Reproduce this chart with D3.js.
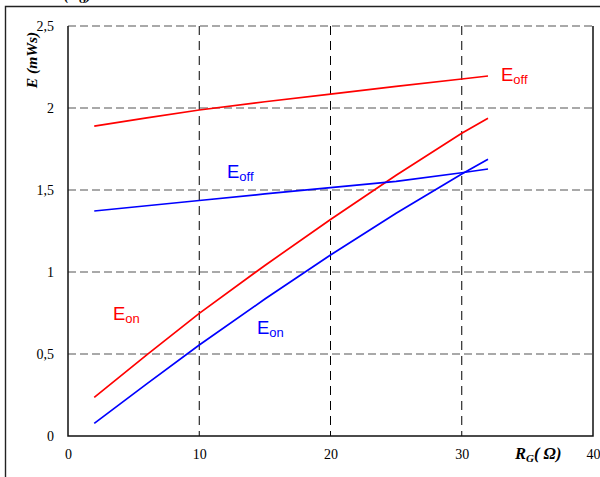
<!DOCTYPE html>
<html><head><meta charset="utf-8">
<script src="https://cdn.jsdelivr.net/npm/d3@7"></script>
<style>html,body{margin:0;padding:0;background:#fff;}svg{display:block;}</style>
</head><body>
<script>
const rgValues = [2, 6, 10, 15, 20, 25, 30, 32];
const eoffRed  = [1.89, 1.94, 1.988, 2.038, 2.085, 2.132, 2.177, 2.195];
const eonRed   = [0.236, 0.495, 0.748, 1.04, 1.32, 1.59, 1.846, 1.937];
const eoffBlue = [1.372, 1.404, 1.436, 1.476, 1.514, 1.553, 1.605, 1.628];
const eonBlue  = [0.077, 0.318, 0.555, 0.835, 1.104, 1.358, 1.598, 1.687];
const xTicks = [0, 10, 20, 30, 40];
const yTicks = [0, 0.5, 1, 1.5, 2, 2.5];
const yTickLabels = ["0", "0,5", "1", "1,5", "2", "2,5"];

const W = 600, H = 477;
const svg = d3.select("body").append("svg").attr("width", W).attr("height", H);
const x = d3.scaleLinear().domain([0, 40]).range([68, 593]);
const y = d3.scaleLinear().domain([0, 2.5]).range([436, 26]);

// outer frame
svg.append("path").attr("d", `M5.5,${H} L5.5,6.5 L${W},6.5`).attr("fill", "none").attr("stroke", "#222").attr("stroke-width", 1.4);

// clipped top title
const tt = svg.append("text").attr("x", 64).attr("y", 0).attr("font-family", "Liberation Serif").attr("font-weight", "bold").attr("font-style", "italic").attr("font-size", 15);
tt.append("tspan").text("(R");
tt.append("tspan").attr("font-size", 10).attr("dy", 3).text("G");
tt.append("tspan").attr("dy", -3).text(")");

// gridlines
const grid = svg.append("g");
grid.selectAll("line.h").data(yTicks.filter(d => d > 0)).join("line")
  .attr("x1", x(0)).attr("x2", x(40)).attr("y1", d => y(d)).attr("y2", d => y(d))
  .attr("stroke", "#555").attr("stroke-width", 1.2).attr("stroke-dasharray", "8,4");
grid.selectAll("line.v").data(xTicks.filter(d => d > 0 && d < 40)).join("line")
  .attr("x1", d => x(d)).attr("x2", d => x(d)).attr("y1", y(2.5)).attr("y2", y(0))
  .attr("stroke", "#000").attr("stroke-width", 1).attr("stroke-dasharray", "9,6");

// plot frame (left, bottom, right)
svg.append("path").attr("d", `M${x(0)},${y(2.5)} L${x(0)},${y(0)} L${x(40)},${y(0)} L${x(40)},${y(2.5)}`)
  .attr("fill", "none").attr("stroke", "#111").attr("stroke-width", 1.5);

// axes labels via d3 axes (no lines)
const yAxis = svg.append("g").attr("transform", `translate(${x(0) - 11},0)`)
  .call(d3.axisLeft(y).tickValues(yTicks).tickSize(0).tickFormat((d, i) => yTickLabels[i]));
yAxis.select(".domain").remove();
yAxis.selectAll("text").attr("font-family", "Liberation Serif").attr("font-size", 14).attr("fill", "#000");

const xAxis = svg.append("g").attr("transform", `translate(0,${y(0) + 10})`)
  .call(d3.axisBottom(x).tickValues(xTicks).tickSize(0).tickFormat(d3.format("d")));
xAxis.select(".domain").remove();
xAxis.selectAll("text").attr("font-family", "Liberation Serif").attr("font-size", 14).attr("fill", "#000");

// axis titles
svg.append("text").attr("transform", "translate(37,60) rotate(-90)").attr("text-anchor", "middle")
  .attr("font-family", "Liberation Serif").attr("font-weight", "bold").attr("font-style", "italic").attr("font-size", 15.5)
  .text("E (mWs)");
const xt = svg.append("text").attr("x", 515).attr("y", 459)
  .attr("font-family", "Liberation Serif").attr("font-weight", "bold").attr("font-style", "italic").attr("font-size", 16.5);
xt.append("tspan").text("R");
xt.append("tspan").attr("font-size", 11).attr("dy", 3).text("G");
xt.append("tspan").attr("dy", -3).text("( Ω)");

// series lines
const line = d3.line().x((d, i) => x(rgValues[i])).y(d => y(d));
const series = [
  {v: eoffRed, c: "#ff0000"},
  {v: eonRed, c: "#ff0000"},
  {v: eoffBlue, c: "#0000ff"},
  {v: eonBlue, c: "#0000ff"}
];
svg.selectAll("path.s").data(series).join("path").attr("class", "s")
  .attr("d", d => line(d.v)).attr("fill", "none").attr("stroke", d => d.c).attr("stroke-width", 1.7);

// labels
const labels = [
  {x: 501, y: 81, main: "E", sub: "off", c: "#ff0000"},
  {x: 227, y: 178, main: "E", sub: "off", c: "#0000ff"},
  {x: 113, y: 320, main: "E", sub: "on", c: "#ff0000"},
  {x: 257, y: 334, main: "E", sub: "on", c: "#0000ff"}
];
labels.forEach(l => {
  const t = svg.append("text").attr("x", l.x).attr("y", l.y).attr("fill", l.c)
    .attr("font-family", "Liberation Sans").attr("font-size", 18.5);
  t.append("tspan").text(l.main);
  t.append("tspan").attr("font-size", 13).attr("dy", 3).text(l.sub);
});
</script>
</body></html>
